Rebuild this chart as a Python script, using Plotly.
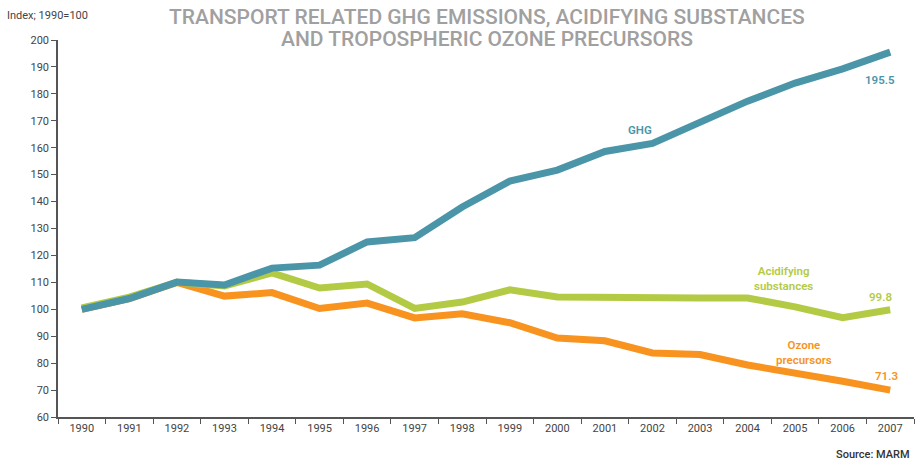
import plotly.graph_objects as go

years = [str(y) for y in range(1990, 2008)]
ghg = [100, 104, 110.1, 109, 115.3, 116.4, 125, 126.6, 138, 147.6, 151.7, 158.6, 161.6, 169.8, 177.3, 184, 189.3, 195.5]
acid = [100.5, 104.5, 110, 108.7, 113.5, 107.9, 109.4, 100.3, 102.7, 107.2, 104.6, 104.3, 104.2, 104.2, 104.2, 100.9, 96.9, 99.8]
ozone = [100, 104, 110, 104.9, 106.2, 100.3, 102.3, 96.8, 98.3, 95, 89.3, 88.3, 83.8, 83.2, 79.3, 76.5, 73.3, 70]
yticks = list(range(60, 201, 10))

c_ghg = "#4a95a8"
c_acid = "#b3cb44"
c_oz = "#f7931e"
font = "Roboto"

W, H = 917, 463
L, R, T, B = 58, 3, 40, 46
PW, PH = W - L - R, H - T - B

fig = go.Figure()
for vals, col in [(ozone, c_oz), (acid, c_acid), (ghg, c_ghg)]:
    fig.add_trace(go.Scatter(x=years, y=vals, mode="lines",
                             line=dict(color=col, width=7), hoverinfo="skip"))

fig.update_layout(
    width=W, height=H,
    margin=dict(l=L, r=R, t=T, b=B, autoexpand=False),
    paper_bgcolor="white", plot_bgcolor="white",
    showlegend=False,
    font=dict(family=font, color="#444", size=11),
    xaxis=dict(type="category", range=[-0.5, 17.5], showgrid=False,
               showline=True, linecolor="#555", linewidth=1.5,
               ticks="outside", tickson="boundaries", ticklen=5, tickcolor="#555",
               tickfont=dict(size=11, color="#444")),
    yaxis=dict(range=[60, 200], tickvals=yticks, showgrid=False, zeroline=False,
               showline=True, linecolor="#555", linewidth=1.5,
               ticks="outside", ticklen=5, tickcolor="#555",
               tickfont=dict(size=11, color="#444")),
)

def px(xp):
    return (xp - L) / PW

def py(yp):
    return 1 - (yp - T) / PH

# two-line title as annotations (centres at page y 16 and 39)
title_lines = ["TRANSPORT RELATED GHG EMISSIONS, ACIDIFYING SUBSTANCES",
               "AND TROPOSPHERIC OZONE PRECURSORS"]
for i, line in enumerate(title_lines):
    fig.add_annotation(text=line, xref="paper", yref="paper",
                       x=px(487), y=py(16.5 + 23 * i),
                       xanchor="center", yanchor="middle", showarrow=False,
                       borderpad=0,
                       font=dict(family=font, size=21, color="#a0a0a0", weight=500))

fig.add_annotation(text="Index; 1990=100", xref="paper", yref="paper",
                   x=px(5), y=py(16), xanchor="left", yanchor="middle",
                   showarrow=False, font=dict(size=11, color="#444"))
fig.add_annotation(text="Source: MARM", xref="paper", yref="paper",
                   x=px(912), y=py(454), xanchor="right", yanchor="middle",
                   showarrow=False, font=dict(size=11, color="#333", weight=500))

# label positions: category index, value
labels = [
    ("GHG", 11.74, 166.6, c_ghg),
    ("195.5", 16.79, 185.1, c_ghg),
    ("Acidifying<br>substances", 14.75, 111.3, c_acid),
    ("99.8", 16.79, 104.6, c_acid),
    ("Ozone<br>precursors", 15.19, 84.1, c_oz),
    ("71.3", 16.93, 75.2, c_oz),
]
for t, xv, yv, col in labels:
    fig.add_annotation(text=t, x=xv, y=yv, showarrow=False,
                       xanchor="center", yanchor="middle",
                       font=dict(size=11.5, color=col, weight=600))

fig.write_html("out.html", config={"displayModeBar": False},
               post_script="document.body.style.margin='0';")
